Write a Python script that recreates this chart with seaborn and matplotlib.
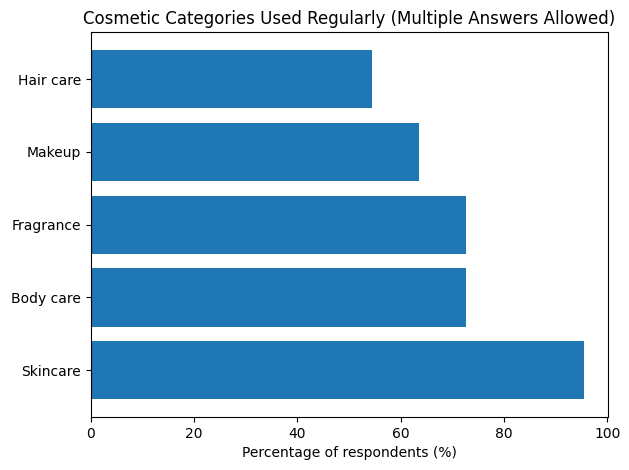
import matplotlib
matplotlib.use("Agg")
import matplotlib.pyplot as plt
import seaborn as sns
import pandas as pd

# survey shares (n looks like 22 respondents)
categories = ["Hair care", "Makeup", "Fragrance", "Body care", "Skincare"]
percentages = [54.55, 63.64, 72.73, 72.73, 95.45]

df = pd.DataFrame({"category": categories, "pct": percentages})

fig, ax = plt.subplots(figsize=(6.29, 4.70), dpi=100)
sns.barplot(data=df, x="pct", y="category", orient="h", color="#1f77b4",
            saturation=1, width=0.8, ax=ax)

# mimic matplotlib's default barh margins
n = len(categories)
ax.set_ylim(n - 1 + 0.4 + 0.24, -0.4 - 0.24)
ax.set_xlim(0, 100.2)

ax.set_title("Cosmetic Categories Used Regularly (Multiple Answers Allowed)")
ax.set_xlabel("Percentage of respondents (%)")
ax.set_ylabel("")

fig.subplots_adjust(left=0.144, right=0.967, top=0.931, bottom=0.113)
fig.savefig("out.png", dpi=100)
